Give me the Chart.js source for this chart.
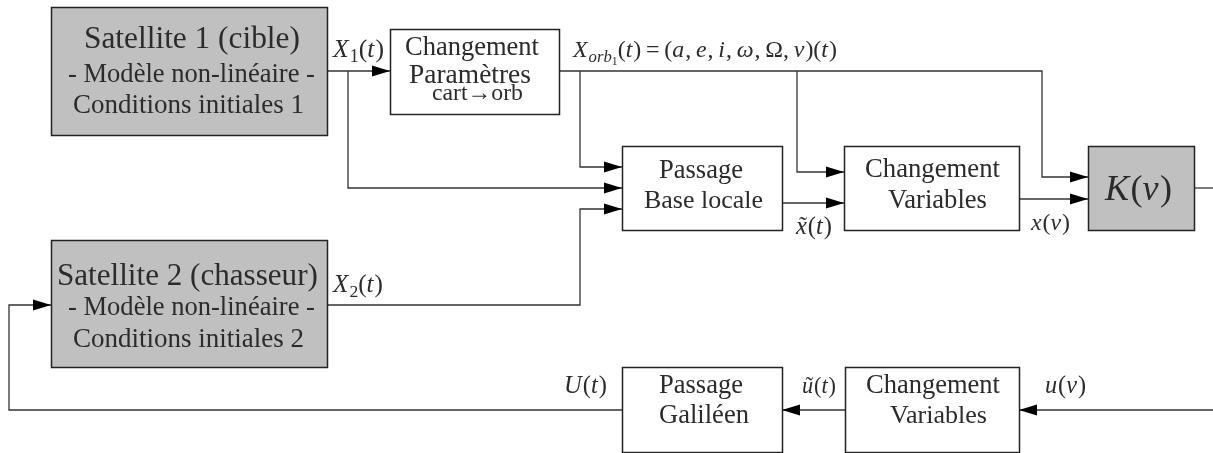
<!DOCTYPE html>
<html>
<head>
<meta charset="utf-8">
<script src="https://cdn.jsdelivr.net/npm/chart.js@4.4.1/dist/chart.umd.min.js"></script>
<style>
  html, body { margin: 0; padding: 0; background: #fff; }
  #wrap { width: 1213px; height: 453px; }
</style>
</head>
<body>
<div id="wrap"><canvas id="diagram" width="1213" height="453"></canvas></div>
<script>
// --- contenu du schéma ---
const blockLines = [
    ["Satellite 1 (cible)", "- Modèle non-linéaire -", "Conditions initiales 1"],
    ["Changement", "Paramètres", "cart→orb"],
    ["Passage", "Base locale"],
    ["Changement", "Variables"],
    ["$K(ν)"],
    ["Satellite 2 (chasseur)", "- Modèle non-linéaire -", "Conditions initiales 2"],
    ["Passage", "Galiléen"],
    ["Changement", "Variables"]
];
const blockShaded = [true, false, false, false, true, true, false, false];
const signalLabels = ["X_1(t)", "X_{orb_1}(t) = (a, e, i, ω, Ω, ν)(t)", "X_2(t)", "~x(t)", "x(ν)", "U(t)", "~u(t)", "u(ν)"];

// --- mise en page (coordonnées du schéma) ---
const blockBox = [
    [51, 7, 327, 135], [390, 29, 559, 114], [622, 146, 782, 230], [844, 146, 1019, 230],
    [1088, 146, 1194, 230], [51, 240, 327, 367], [622, 367, 782, 452], [845, 367, 1019, 452]
];
// [gauche, droite, ligne de base] pour chaque ligne de texte
const blockTextPos = [
    [[84, 300, 48], [68, 315, 82], [73, 304, 113]],
    [[405, 539, 55], [409, 531, 83], [432, 523, 100]],
    [[659, 743, 178], [644, 763, 208]],
    [[865, 1000, 177], [888, 987, 208]],
    [[1105, 1172, 200]],
    [[57, 318, 285], [68, 315, 315], [73, 304, 347]],
    [[659, 743, 393], [659, 749, 423]],
    [[866, 1000, 393], [890, 987, 423]]
];
const signalPos = [
    [333, 384, 57], [573, 837, 57], [333, 383, 292], [796, 832, 234],
    [1031, 1070, 230], [564, 607, 393], [802, 836, 393], [1045, 1086, 393]
];
const wires = [
    [[327, 71], [390, 71]],
    [[348, 71], [348, 188], [622, 188]],
    [[559, 71], [1042, 71], [1042, 177], [1088, 177]],
    [[580, 71], [580, 167], [622, 167]],
    [[797, 71], [797, 172], [844, 172]],
    [[327, 305], [580, 305], [580, 209], [622, 209]],
    [[782, 203], [844, 203]],
    [[1019, 199], [1088, 199]],
    [[1194, 188], [1214, 188]],
    [[1214, 410], [1019, 410]],
    [[845, 410], [782, 410]],
    [[622, 410], [9, 410], [9, 305], [51, 305]]
];
const wireArrow = [true, true, true, true, true, true, true, true, false, true, true, true];

const FONT = '"Liberation Serif", "DejaVu Serif", serif';
const INK = "#2b2b2b";

// petit analyseur : lettres en italique, _ pour indice, ~ pour tilde
const parseMath = (s, level = 0, out = []) => {
    let i = 0;
    while (i < s.length) {
        let ch = s[i];
        if (ch === "_") {
            i++;
            let grp;
            if (s[i] === "{") {
                let d = 1, j = i + 1;
                while (d) { if (s[j] === "{") d++; else if (s[j] === "}") d--; j++; }
                grp = s.slice(i + 1, j - 1);
                i = j;
            } else { grp = s[i]; i++; }
            parseMath(grp, level + 1, out);
            continue;
        }
        let tilde = false;
        if (ch === "~") { tilde = true; i++; ch = s[i]; }
        out.push({ t: ch, italic: /[A-Za-zα-ω]/.test(ch), level, tilde });
        i++;
    }
    return out;
};

const tokFont = (tk, size) => {
    const sz = size * Math.pow(0.7, tk.level);
    return `${tk.italic ? "italic " : ""}${sz}px ${FONT}`;
};

const tokWidth = (ctx, tk, size) => {
    if (tk.t === " ") return size * 0.2 * Math.pow(0.7, tk.level);
    ctx.font = tokFont(tk, size);
    return ctx.measureText(tk.t).width + (tk.italic && tk.level === 0 ? size * 0.04 : 0);
};

const mathWidth = (ctx, toks, size) => toks.reduce((a, tk) => a + tokWidth(ctx, tk, size), 0);

const drawMath = (ctx, str, x0, x1, y) => {
    const toks = parseMath(str);
    const size = 20 * (x1 - x0) / mathWidth(ctx, toks, 20);
    let x = x0;
    toks.forEach(tk => {
        const w = tokWidth(ctx, tk, size);
        if (tk.t !== " ") {
            ctx.font = tokFont(tk, size);
            const dy = tk.level === 0 ? 0 : size * 0.2 + (tk.level - 1) * size * 0.12;
            ctx.fillText(tk.t, x, y + dy);
            if (tk.tilde) {
                ctx.textAlign = "center";
                ctx.font = `${size}px ${FONT}`;
                ctx.fillText("˜", x + w / 2 + size * 0.05, y);
                ctx.textAlign = "left";
            }
        }
        x += w;
    });
};

const drawPlain = (ctx, str, x0, x1, y) => {
    ctx.font = `20px ${FONT}`;
    const size = 20 * (x1 - x0) / ctx.measureText(str).width;
    ctx.font = `${size}px ${FONT}`;
    ctx.fillText(str, x0, y);
};

const diagramPlugin = {
    id: "diagram",
    afterDatasetsDraw(chart) {
        const ctx = chart.ctx;
        const xs = chart.scales.x, ys = chart.scales.y;
        const px = v => xs.getPixelForValue(v);
        const py = v => ys.getPixelForValue(v);
        ctx.save();

        // pointes de flèche
        chart.data.datasets.forEach((ds, k) => {
            if (!wireArrow[k]) return;
            const pts = chart.getDatasetMeta(k).data;
            const a = pts[pts.length - 2], b = pts[pts.length - 1];
            const ang = Math.atan2(b.y - a.y, b.x - a.x);
            const L = 18, H = 5.5;
            ctx.fillStyle = "#000";
            ctx.beginPath();
            ctx.moveTo(b.x, b.y);
            ctx.lineTo(b.x - L * Math.cos(ang) + H * Math.sin(ang), b.y - L * Math.sin(ang) - H * Math.cos(ang));
            ctx.lineTo(b.x - L * Math.cos(ang) - H * Math.sin(ang), b.y - L * Math.sin(ang) + H * Math.cos(ang));
            ctx.closePath();
            ctx.fill();
        });

        // blocs
        blockBox.forEach((bx, k) => {
            const x0 = Math.round(px(bx[0])) + 0.5, y0 = Math.round(py(bx[1])) + 0.5;
            const x1 = Math.round(px(bx[2])) + 0.5, y1 = Math.round(py(bx[3])) + 0.5;
            ctx.fillStyle = blockShaded[k] ? "#c0c0c0" : "#fff";
            ctx.fillRect(x0, y0, x1 - x0, y1 - y0);
            ctx.strokeStyle = "#222";
            ctx.lineWidth = 1.5;
            ctx.strokeRect(x0, y0, x1 - x0, y1 - y0);
        });

        // textes
        ctx.fillStyle = INK;
        ctx.textAlign = "left";
        ctx.textBaseline = "alphabetic";
        blockLines.forEach((lines, k) => {
            lines.forEach((s, j) => {
                const p = blockTextPos[k][j];
                if (s[0] === "$") drawMath(ctx, s.slice(1), px(p[0]), px(p[1]), py(p[2]));
                else drawPlain(ctx, s, px(p[0]), px(p[1]), py(p[2]));
            });
        });
        signalLabels.forEach((s, k) => {
            const p = signalPos[k];
            drawMath(ctx, s, px(p[0]), px(p[1]), py(p[2]));
        });
        ctx.restore();
    }
};

new Chart(document.getElementById("diagram"), {
    type: "scatter",
    data: {
        datasets: wires.map(w => ({
            data: w.map(p => ({ x: p[0], y: p[1] })),
            showLine: true,
            borderColor: "#333",
            borderWidth: 1.3,
            pointRadius: 0,
            tension: 0,
            fill: false,
            clip: false
        }))
    },
    options: {
        responsive: false,
        animation: false,
        devicePixelRatio: 1,
        events: [],
        layout: { padding: 0 },
        plugins: { legend: { display: false }, tooltip: { enabled: false } },
        scales: {
            x: { type: "linear", min: 0, max: 1213, display: false },
            y: { type: "linear", min: 0, max: 453, reverse: true, display: false }
        }
    },
    plugins: [diagramPlugin]
});
</script>
</body>
</html>
